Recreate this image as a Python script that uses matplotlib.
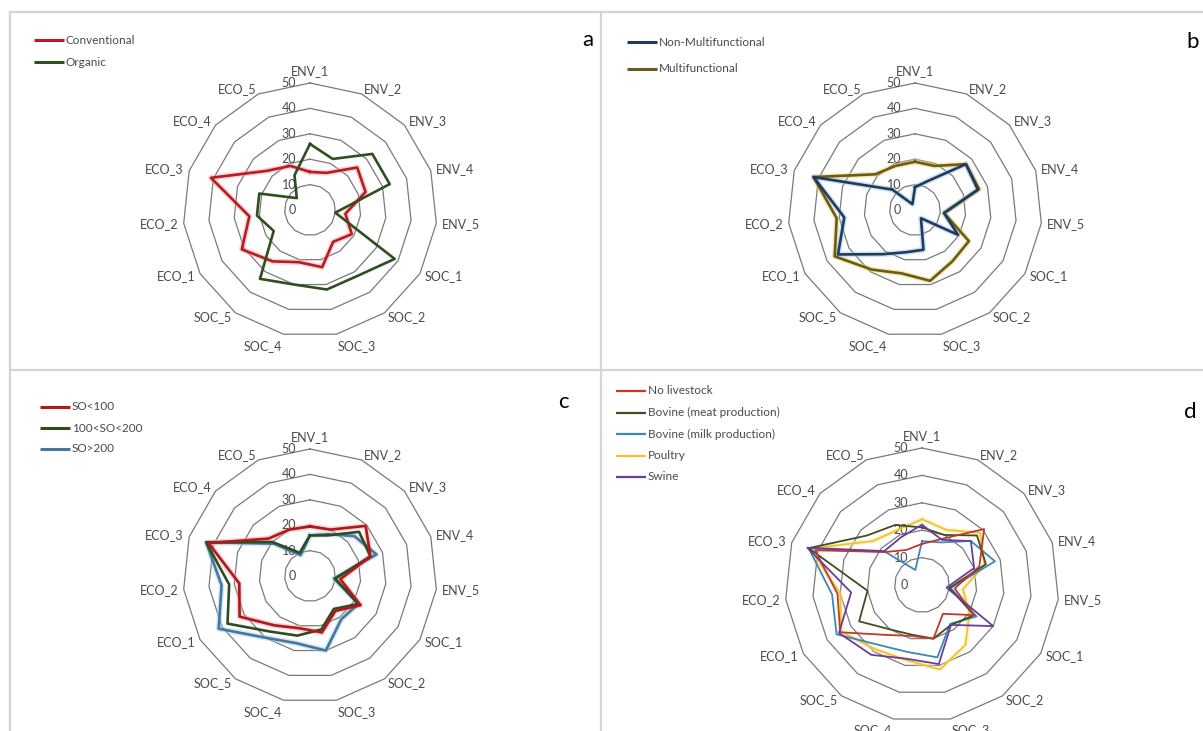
import numpy as np
import matplotlib
matplotlib.use('Agg')
import matplotlib.pyplot as plt

plt.rcParams['font.family'] = ['Lato', 'DejaVu Sans']

# axes of the radar, clockwise from the top
categories = ['ENV_1', 'ENV_2', 'ENV_3', 'ENV_4', 'ENV_5',
              'SOC_1', 'SOC_2', 'SOC_3', 'SOC_4', 'SOC_5',
              'ECO_1', 'ECO_2', 'ECO_3', 'ECO_4', 'ECO_5']
ring_values = [0, 10, 20, 30, 40, 50]

# panel a
a_names = ['Conventional', 'Organic']
a_conventional = [15, 16, 25, 23, 14, 19, 15.5, 23, 21, 25, 31, 24, 41, 23, 19]
a_organic = [26, 22, 33, 33, 10, 38.5, 32, 32, 30, 33.5, 16.5, 21, 21, 7, 15]

# panel b
b_names = ['Non-Multifunctional', 'Multifunctional']
b_nonmulti = [9, 12.5, 27, 26, 11.5, 19.5, 4, 16, 17, 21.5, 35, 28, 42, 12, 2.5]
b_multi = [19, 19, 27, 26.5, 11.5, 24.5, 25, 28.5, 25.5, 29, 36.5, 31, 42, 21, 19]

# panel c
c_names = ['SO<100', '100<SO<200', 'SO>200']
c_lt100 = [19.5, 20, 29.5, 25, 12, 23, 17, 22.7, 21, 24, 32, 28, 42, 22, 20]
c_100_200 = [16, 17.5, 26, 25, 10, 22, 16, 21.5, 24, 27, 37.5, 32, 43, 20, 10]
c_gt200 = [16, 18, 23.5, 27.5, 9.5, 22, 21, 30, 27, 30, 41.5, 35, 43, 19, 9]

# panel d
d_names = ['No livestock', 'Bovine (meat production)', 'Bovine (milk production)',
           'Poultry', 'Swine']
d_none = [15, 18.5, 30.5, 22, 12, 22, 13, 20, 19, 22.5, 34.5, 31, 41, 18, 14]
d_meat = [21, 20, 27, 24.5, 10, 22, 18, 20, 18.5, 20, 26.5, 20, 43.5, 27, 24]
d_milk = [16, 17, 24, 28, 10.5, 23, 17.5, 27, 25, 27, 36, 33, 43.5, 18, 6]
d_poultry = [24, 22, 28.5, 24, 15, 20, 27, 31.5, 28, 29, 34, 30, 43, 24, 22]
d_swine = [22, 18, 24, 20, 9, 30, 18, 29.5, 27.5, 31.5, 35, 26, 44, 18.5, 19]

W, H = 1203, 731
GREY = '#4a4a4a'
fig = plt.figure(figsize=(W / 100, H / 100), dpi=100)

# overlay in pixel coordinates for frames, legends and letters
ov = fig.add_axes([0, 0, 1, 1])
ov.set_xlim(0, W)
ov.set_ylim(H, 0)
ov.axis('off')

frame = '#d4d4d4'
ov.plot([10, W], [12, 12], color=frame, lw=1.6)
ov.plot([10, W], [370, 370], color=frame, lw=1.6)
ov.plot([10, 10], [12, H], color=frame, lw=1.6)
ov.plot([601, 601], [12, H], color=frame, lw=1.6)

theta = np.deg2rad(np.arange(len(categories)) * 24)
theta_c = np.append(theta, theta[0])


def radar(cx, cy, R, series, lw):
    ax = fig.add_axes([(cx - R) / W, (H - cy - R) / H, 2 * R / W, 2 * R / H],
                      projection='polar')
    ax.set_theta_zero_location('N')
    ax.set_theta_direction(-1)
    ax.set_ylim(0, 50)
    ax.axis('off')
    for r in ring_values[1:]:
        ax.plot(theta_c, [r] * len(theta_c), color='#7a7a7a', lw=0.9,
                zorder=1, clip_on=False)
    for v in ring_values:
        ax.annotate(str(v), xy=(0, v), xytext=(-10, 0), textcoords='offset points',
                    ha='right', va='center', fontsize=9, color=GREY)
    for i, cat in enumerate(categories):
        s, c = np.sin(theta[i]), np.cos(theta[i])
        ha = 'left' if s > 0.05 else ('right' if s < -0.05 else 'center')
        va = 'bottom' if c > 0.95 else ('top' if c < -0.95 else 'center')
        ax.annotate(cat, xy=(theta[i], 50), xytext=(4 * s, 4 * c),
                    textcoords='offset points', ha=ha, va=va,
                    fontsize=9, color=GREY)
    for vals, color, halo in series:
        v = np.append(vals, vals[0])
        if halo:
            ax.plot(theta_c, v, color=halo, lw=lw + 2.2, alpha=0.45,
                    zorder=2, clip_on=False)
        ax.plot(theta_c, v, color=color, lw=lw, zorder=3, clip_on=False)
    return ax


def legend(x, y0, dy, names, colors, lw):
    for k, (name, col) in enumerate(zip(names, colors)):
        y = y0 + k * dy
        ov.plot([x, x + 30], [y, y], color=col, lw=lw, solid_capstyle='butt')
        ov.text(x + 32, y, name, fontsize=8.5, color=GREY, ha='left', va='center')


# a
a_cols = ['#b81c22', '#2f4f1f']
radar(310, 210, 127, [(a_conventional, a_cols[0], '#f2a0a0'),
                      (a_organic, a_cols[1], None)], 1.9)
legend(34, 40, 22, a_names, a_cols, 2.2)
ov.text(588, 40, 'a', fontsize=16, ha='center', va='center', color='black')

# b
b_cols = ['#1f3b5f', '#6b5a18']
radar(915, 210, 127, [(b_multi, b_cols[1], '#e8d36a'),
                      (b_nonmulti, b_cols[0], '#9fc3e0')], 1.9)
legend(627, 42, 27, b_names, b_cols, 2.2)
ov.text(1193, 42, 'b', fontsize=16, ha='center', va='center', color='black')

# c
c_cols = ['#b0181c', '#2e4d1f', '#4577a0']
radar(310, 576, 127, [(c_gt200, c_cols[2], '#a8cbe6'),
                      (c_100_200, c_cols[1], None),
                      (c_lt100, c_cols[0], '#f2a0a0')], 1.9)
legend(40, 407, 21, c_names, c_cols, 2.2)
ov.text(563, 402, 'c', fontsize=16, ha='center', va='center', color='black')

# d
d_cols = ['#c0392b', '#3f4f22', '#3f86b8', '#f2c12e', '#6a3d9a']
radar(922, 585, 137, [(d_poultry, d_cols[3], '#fbe7a0'),
                      (d_milk, d_cols[2], None),
                      (d_meat, d_cols[1], None),
                      (d_none, d_cols[0], None),
                      (d_swine, d_cols[4], None)], 1.3)
legend(616, 391, 21.5, d_names, d_cols, 1.6)
ov.text(1190, 412, 'd', fontsize=16, ha='center', va='center', color='black')

fig.savefig('out.png', dpi=100)
